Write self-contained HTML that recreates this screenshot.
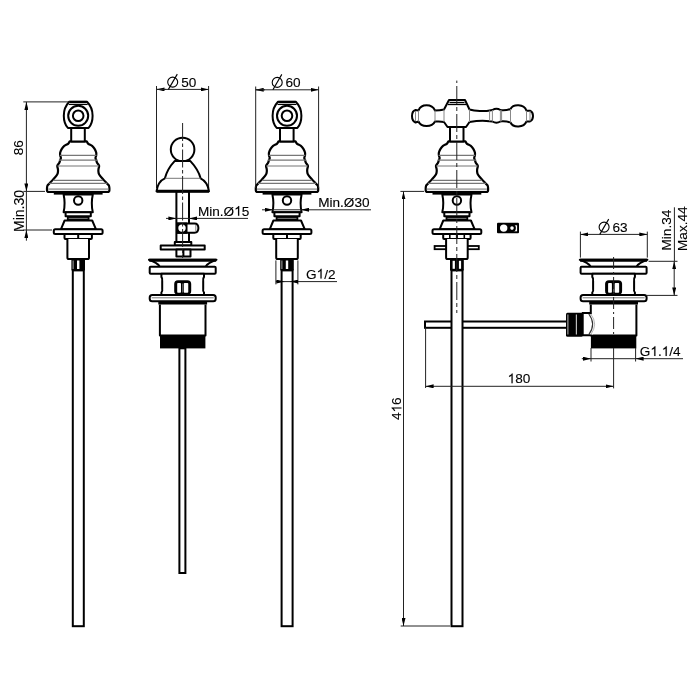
<!DOCTYPE html>
<html><head><meta charset="utf-8">
<style>
html,body{margin:0;padding:0;background:#fff;width:700px;height:700px;overflow:hidden}
svg{display:block;will-change:transform}
text{font-family:"Liberation Sans",sans-serif;font-size:13.6px;fill:#000;stroke:#000;stroke-width:0.12px}
</style></head><body>
<svg width="700" height="700" viewBox="0 0 700 700">
<defs>
 <marker id="ar" viewBox="0 0 8 4" refX="8" refY="2" markerWidth="8" markerHeight="4" markerUnits="userSpaceOnUse" orient="auto-start-reverse">
  <path d="M0,0 L8,2 L0,4 Z" fill="#000"/>
 </marker>
<g id="dia"><circle r="5" fill="none" stroke="#000" stroke-width="1.1"/><line x1="-4.3" y1="7.3" x2="4.6" y2="-8" stroke="#000" stroke-width="1.1"/></g>
 <path id="one" d="M763,0 L583,0 L583,1147 Q518,1085 412,1023 Q306,961 221,930 L221,1104 Q371,1175 483,1276 Q595,1377 641,1472 L763,1472 Z" fill="#000" stroke="#000" stroke-width="18"/>
 <!-- common faucet body from bell down, centered at x=0 -->
 <g id="body">
  <g fill="#fff" stroke="#000" stroke-width="2.2" stroke-linejoin="round">
   <path d="M-8.5,141.3 C-8.77,141.72 -9.20,143.03 -10.10,143.80 C-11.00,144.57 -12.85,145.07 -13.90,145.90 C-14.95,146.73 -15.72,147.70 -16.40,148.80 C-17.08,149.90 -17.73,151.40 -18.00,152.50 C-18.27,153.60 -18.12,154.50 -18.00,155.40 C-17.88,156.30 -17.28,157.07 -17.30,157.90 C-17.32,158.73 -17.82,159.57 -18.10,160.40 C-18.38,161.23 -18.53,162.00 -19.00,162.90 C-19.47,163.80 -20.68,164.78 -20.90,165.80 C-21.12,166.82 -20.42,168.08 -20.30,169.00 C-20.18,169.92 -20.08,170.38 -20.20,171.30 C-20.32,172.22 -20.20,173.15 -21.00,174.50 C-21.80,175.85 -23.70,177.90 -25.00,179.40 C-26.30,180.90 -27.85,182.47 -28.80,183.50 C-29.75,184.53 -30.30,184.85 -30.70,185.60 C-31.10,186.35 -31.12,187.60 -31.20,188.00 L-31.2,190.3 Q-31.2,192 -29.4,192 L29.4,192 Q31.2,192 31.2,190.3 L31.2,188 C31.12,187.60 31.10,186.35 30.70,185.60 C30.30,184.85 29.75,184.53 28.80,183.50 C27.85,182.47 26.30,180.90 25.00,179.40 C23.70,177.90 21.80,175.85 21.00,174.50 C20.20,173.15 20.32,172.22 20.20,171.30 C20.08,170.38 20.18,169.92 20.30,169.00 C20.42,168.08 21.12,166.82 20.90,165.80 C20.68,164.78 19.47,163.80 19.00,162.90 C18.53,162.00 18.38,161.23 18.10,160.40 C17.82,159.57 17.32,158.73 17.30,157.90 C17.28,157.07 17.88,156.30 18.00,155.40 C18.12,154.50 18.27,153.60 18.00,152.50 C17.73,151.40 17.08,149.90 16.40,148.80 C15.72,147.70 14.95,146.73 13.90,145.90 C12.85,145.07 11.00,144.57 10.10,143.80 C9.20,143.03 8.77,141.72 8.50,141.30 Z"/>
  </g>
  <g stroke="#777" stroke-width="1.2">
   <line x1="-18.3" y1="155.4" x2="18.3" y2="155.4"/>
   <line x1="-19.3" y1="160.2" x2="19.3" y2="160.2"/>
   <line x1="-20.8" y1="166" x2="20.8" y2="166"/>
   <line x1="-24.8" y1="180.4" x2="24.8" y2="180.4"/>
   <line x1="-29" y1="183.3" x2="29" y2="183.3"/>
  </g>
  <line x1="-30" y1="189.3" x2="30" y2="189.3" stroke="#aaa" stroke-width="2"/>
  <rect x="-24.4" y="192" width="48.8" height="2.6" fill="#000"/>
  <g fill="#fff" stroke="#000" stroke-width="2" stroke-linejoin="round">
   <path d="M-14.6,194.5 Q-12.6,203.5 -14.6,212.3 L14.6,212.3 Q12.6,203.5 14.6,194.5 Z"/>
   <circle cx="0" cy="200.5" r="4.2"/>
   <rect x="-12.6" y="212.3" width="25.2" height="4"/>
  </g>
  <rect x="-11.3" y="216.3" width="22.6" height="4.2" fill="#000"/>
  <line x1="-9.5" y1="218.4" x2="9.5" y2="218.4" stroke="#999" stroke-width="0.8"/>
  <g fill="#fff" stroke="#000" stroke-width="2" stroke-linejoin="round">
   <path d="M-13.6,220.5 L14,220.5 L17.8,229.3 L-17.3,229.3 Z"/>
   <rect x="-24.4" y="229.3" width="48.8" height="4.7" rx="1.5"/>
   <rect x="-13.7" y="234" width="27.4" height="5" rx="1"/>
   <line x1="0" y1="234" x2="0" y2="239"/>
   <path d="M-10.8,239 L-10.8,257.5 Q-10.8,259.1 -9.2,259.1 L9.2,259.1 Q10.8,259.1 10.8,257.5 L10.8,239"/>
  </g>
  <rect x="-6.8" y="259.1" width="13.6" height="11.3" fill="#000"/>
  <rect x="-1.2" y="260.5" width="2.4" height="8.5" fill="#fff"/>
  <rect x="-5.6" y="260.5" width="1" height="8.5" fill="#aaa"/>
  <rect x="-5.4" y="270.4" width="11" height="355.8" fill="#fff" stroke="#000" stroke-width="2"/>
 </g>
 <!-- knob with ring -->
 <g id="knob">
  <g fill="#fff" stroke="#000" stroke-width="2" stroke-linejoin="round">
   <path d="M-9,101.8 L8.8,101.8 C12.5,105.5 14.4,110 14.4,115.7 C14.4,121 13,125 10.4,127.9 L-10.3,127.9 C-13,125 -14.4,121 -14.4,115.7 C-14.4,110 -12.5,105.5 -9,101.8 Z"/>
   <rect x="-7" y="127.9" width="13.6" height="13.5"/>
   <circle cx="0" cy="115.8" r="10"/>
   <circle cx="0" cy="115.8" r="5.3"/>
  </g>
  <rect x="-8.6" y="100.9" width="17.2" height="2.3" fill="#000"/>
  <line x1="-9.5" y1="104.5" x2="9.5" y2="104.5" stroke="#000" stroke-width="1.1"/>
 </g>
 <!-- drain -->
 <g id="drain">
  <g fill="#fff" stroke="#000" stroke-width="2" stroke-linejoin="round">
   <path d="M-33.8,259.7 L33.8,259.7 C30,261 25,263 22.8,266.7 L-22.8,266.7 C-25,263 -30,261 -33.8,259.7 Z"/>
   <rect x="-33" y="266.7" width="66" height="7.1" rx="1"/>
   <path d="M-21.3,273.8 L-21.3,277 Q-20,278.5 -20.5,281 L-20.5,289 Q-20,291.5 -21.3,292.5 L-21.3,295 L21.3,295 L21.3,292.5 Q20,291.5 20.5,289 L20.5,281 Q20,278.5 21.3,277 L21.3,273.8 Z"/>
   <rect x="-8.5" y="280.3" width="17" height="14.5" rx="3.8" fill="#000" stroke="none"/>
   <rect x="-33" y="295" width="66" height="6.3" rx="2.5"/>
   <path d="M-22.8,304.5 L-22.8,335.5 L22.8,335.5 L22.8,304.5"/>
  </g>
  <rect x="-5.5" y="283" width="3.8" height="9.8" rx="0.8" fill="#fff"/>
  <rect x="1.05" y="283" width="4.5" height="9.8" rx="0.8" fill="#fff"/>
  <rect x="-0.45" y="283.5" width="0.6" height="9" fill="#999"/>
  <line x1="-33.5" y1="260.2" x2="33.5" y2="260.2" stroke="#000" stroke-width="3"/>
  <line x1="-31" y1="297.8" x2="31" y2="297.8" stroke="#777" stroke-width="1"/>
  <rect x="-24.4" y="301.3" width="48.8" height="3.2" fill="#000"/>
  <rect x="-22.7" y="335.5" width="45.4" height="12.9" fill="#000"/>
 </g>
</defs>
<!-- ============ FAUCET 1 ============ -->
<use href="#body" x="78.2"/>
<use href="#knob" x="78.2"/>
<g stroke="#222" stroke-width="1" fill="none">
 <line x1="23.3" y1="101.9" x2="70" y2="101.9"/>
 <line x1="23.4" y1="191.4" x2="45" y2="191.4"/>
 <line x1="23.4" y1="230" x2="52" y2="230"/>
 <line x1="26.4" y1="101.9" x2="26.4" y2="191.4" marker-start="url(#ar)" marker-end="url(#ar)"/>
 <line x1="26.4" y1="191.4" x2="26.4" y2="230"/>
 <line x1="26.4" y1="240.7" x2="26.4" y2="230" marker-end="url(#ar)"/>
</g>
<text transform="translate(23.3,155.2) rotate(-90)">86</text>
<text transform="translate(23.9,232) rotate(-90)" style="font-size:14px">Min.30</text>

<!-- ============ POP-UP (middle) ============ -->
<g stroke="#222" stroke-width="1" fill="none">
 <line x1="156.5" y1="86" x2="156.5" y2="188"/>
 <line x1="208.6" y1="86" x2="208.6" y2="188"/>
 <line x1="166" y1="89.4" x2="156.5" y2="89.4" marker-end="url(#ar)"/>
 <line x1="156.5" y1="89.4" x2="208.6" y2="89.4" marker-end="url(#ar)"/>
</g>
<use href="#dia" x="172.7" y="82.1"/><text x="181.3" y="86.5">50</text>
<g fill="#fff" stroke="#000" stroke-width="2" stroke-linejoin="round">
 <rect x="176.4" y="191.3" width="12.6" height="53"/>
 <circle cx="182.6" cy="149.5" r="11.8"/>
 <path d="M174.6,161.1 L190.4,161.1 C195,166 199,172 200.6,178.3 C204,180 208,184 209,191.3 L156.5,191.3 C157.5,184 161,180 164.9,178.3 C166.5,172 170,166 174.6,161.1 Z"/>
</g>
<line x1="165" y1="178.3" x2="200.6" y2="178.3" stroke="#777" stroke-width="1"/>
<line x1="156.5" y1="191.3" x2="209" y2="191.3" stroke="#000" stroke-width="3"/>
<g stroke="#222" stroke-width="1" fill="none">
 <line x1="166" y1="218.4" x2="176.4" y2="218.4" marker-end="url(#ar)"/>
 <line x1="248" y1="218.4" x2="189" y2="218.4" marker-end="url(#ar)"/>
 <line x1="176.4" y1="218.4" x2="189" y2="218.4"/>
</g>
<text x="197.9" y="215.8">Min.Ø 5</text><use href="#one" transform="translate(234.15,215.80) scale(0.0066406,-0.0066406)"/>
<g fill="#fff" stroke="#000" stroke-width="2" stroke-linejoin="round">
 <path d="M177.4,223.4 L194.5,223.4 Q198.4,223.4 198.4,228.1 Q198.4,232.8 194.5,232.8 L177.4,232.8 Z"/>
 <path d="M177.4,223.4 L186.5,223.4 L186.5,232.8 L177.4,232.8 Z" fill="#000"/>
 <circle cx="182" cy="228.1" r="3.7" stroke="none"/>
 <line x1="195.8" y1="225" x2="195.8" y2="231.3" stroke="#888" stroke-width="1"/>
 <rect x="174.8" y="242" width="16.5" height="3.5"/>
 <rect x="160.7" y="245.5" width="44" height="3.9"/>
 <rect x="176.4" y="249.4" width="14.1" height="7.1"/>
 <line x1="183.4" y1="249.4" x2="183.4" y2="256.5"/>
</g>
<use href="#drain" x="182.7"/>
<rect x="179.4" y="348.3" width="6" height="224.7" fill="#fff" stroke="#000" stroke-width="2"/>
<line x1="182.6" y1="123" x2="182.6" y2="258" stroke="#222" stroke-width="1" stroke-dasharray="18 2.5 3.5 2.5"/>

<!-- ============ FAUCET 3 ============ -->
<use href="#body" x="287"/>
<use href="#knob" x="287"/>
<g stroke="#222" stroke-width="1" fill="none">
 <line x1="255.7" y1="86.5" x2="255.7" y2="188"/>
 <line x1="318.6" y1="86.5" x2="318.6" y2="188"/>
 <line x1="265" y1="89.8" x2="255.7" y2="89.8" marker-end="url(#ar)"/>
 <line x1="255.7" y1="89.8" x2="318.6" y2="89.8" marker-end="url(#ar)"/>
 <line x1="262" y1="209.8" x2="273" y2="209.8" marker-end="url(#ar)"/>
 <line x1="371" y1="209.8" x2="301" y2="209.8" marker-end="url(#ar)"/>
 <line x1="275.9" y1="260.4" x2="275.9" y2="284.4"/>
 <line x1="297.9" y1="260.4" x2="297.9" y2="284.4"/>
 <line x1="275.9" y1="281.6" x2="284.4" y2="281.6" marker-end="url(#ar)"/>
 <line x1="337" y1="281.6" x2="290.1" y2="281.6" marker-end="url(#ar)"/>
 <line x1="283" y1="281.6" x2="291" y2="281.6"/>
 <line x1="273" y1="209.8" x2="301" y2="209.8"/>
</g>
<use href="#dia" x="277.2" y="82.4"/><text x="285.5" y="87.1">60</text>
<text x="318.2" y="207">Min.Ø30</text>
<text x="306" y="278.6">G /2</text><use href="#one" transform="translate(316.56,278.60) scale(0.0066406,-0.0066406)"/>

<!-- ============ RIGHT FAUCET ============ -->
<!-- pipe -->
<rect x="425" y="321.5" width="150" height="6.3" fill="#fff" stroke="#000" stroke-width="2"/>
<rect x="434.6" y="246" width="44.2" height="3.2" fill="#fff" stroke="#000" stroke-width="1.8"/>
<use href="#body" x="456.9"/>
<line x1="449.8" y1="234" x2="449.8" y2="239" stroke="#000" stroke-width="1.6"/>
<line x1="464.3" y1="234" x2="464.3" y2="239" stroke="#000" stroke-width="1.6"/>
<g fill="#fff" stroke="#000" stroke-width="2" stroke-linejoin="round">
 <rect x="450" y="127" width="13.5" height="14.4"/>
 <path d="M449,100 L465,100 L469.5,109.5 C475,111 485,111.5 489.6,110.5 L492.4,110 Q496.4,107.5 500.4,110 L501.6,110.3 C505,110.5 508,110 510.5,109 C513,104 524,103.5 526.5,110.8 L530,110.8 Q533,112 533,116 Q533,120 530,121.4 L526.5,121.4 C524,128 513,128 510.5,122.5 C508,121.5 505,121 501.6,121.2 L500.4,121.5 Q496.4,124 492.4,121.5 L489.6,121.2 C485,120.5 475,121 469.5,122 L466,127 L447.5,127 L444,122 C440,121 437.5,121.5 435,121.5 C432,127.5 421,127.5 418.5,121.5 L415.5,122.5 Q412,121 412,116 Q412,111 415.5,110 L418.5,110.5 C421,103.5 432,103.5 435,110.5 C437.5,110.5 440,110.5 444,109.5 Z"/>
</g>
<g stroke="#000" stroke-width="1.3">
 <line x1="449.5" y1="102.5" x2="464.5" y2="102.5"/>
 <line x1="448" y1="104.5" x2="466" y2="104.5"/>
</g>
<g stroke="#888" stroke-width="1">
 <line x1="444" y1="109.5" x2="444" y2="122"/>
 <line x1="469.5" y1="109.5" x2="469.5" y2="122"/>
 <line x1="435" y1="110.5" x2="435" y2="121.5"/>
 <line x1="418.5" y1="110.5" x2="418.5" y2="121.5"/>
 <line x1="415.5" y1="111" x2="415.5" y2="121"/>
 <line x1="489.6" y1="110.5" x2="489.6" y2="121.2"/>
 <line x1="492.4" y1="110" x2="492.4" y2="121.5"/>
 <line x1="500.4" y1="110" x2="500.4" y2="121.5"/>
 <line x1="501.6" y1="110.3" x2="501.6" y2="121.2"/>
 <line x1="510.5" y1="109" x2="510.5" y2="122.5"/>
 <line x1="526.5" y1="110.8" x2="526.5" y2="121.4"/>
 <line x1="530" y1="111" x2="530" y2="121.2"/>
</g>
<rect x="450" y="259.1" width="13.4" height="11.3" fill="#000"/>
<rect x="452.6" y="260.8" width="2.3" height="8" fill="#fff"/>
<rect x="458.9" y="260.8" width="2.2" height="8" fill="#fff"/>
<line x1="456.8" y1="80.6" x2="456.8" y2="313" stroke="#222" stroke-width="1" stroke-dasharray="18 3 4 3" stroke-dashoffset="22.6"/>
<!-- small block -->
<rect x="497" y="222.8" width="22" height="10.5" rx="1" fill="#000"/>
<circle cx="503.7" cy="228.1" r="3.7" fill="#fff"/>
<rect x="513.5" y="225.3" width="3.6" height="6" fill="#fff"/>
<circle cx="512" cy="228.1" r="3.9" fill="#000"/>
<circle cx="512" cy="228.1" r="1.8" fill="#fff"/>
<!-- 416 dim -->
<g stroke="#222" stroke-width="1" fill="none">
 <line x1="400.4" y1="191.4" x2="424" y2="191.4"/>
 <line x1="400.7" y1="626" x2="450" y2="626"/>
 <line x1="403.5" y1="191.4" x2="403.5" y2="626" marker-start="url(#ar)" marker-end="url(#ar)"/>
 <line x1="425.6" y1="327.5" x2="425.6" y2="388"/>
 <line x1="425.6" y1="386.3" x2="613.6" y2="386.3" marker-start="url(#ar)" marker-end="url(#ar)"/>
</g>
<g transform="translate(401.4,420) rotate(-90)"><text>4 6</text><use href="#one" transform="translate(7.55,0.00) scale(0.0066406,-0.0066406)"/></g>
<text x="507.6" y="383.2"> 80</text><use href="#one" transform="translate(507.60,383.20) scale(0.0066406,-0.0066406)"/>

<!-- ============ RIGHT DRAIN ============ -->
<use href="#drain" x="613.6"/>
<rect x="588" y="314.2" width="5" height="20.2" fill="#fff"/>
<g fill="none" stroke="#000" stroke-width="2">
 <path d="M590.4,313.1 L582.7,313.1 L582.7,335.2 L590.4,335.2"/>
</g>
<path d="M588.8,314 Q596.5,324.2 588.8,334.5" fill="none" stroke="#333" stroke-width="1.1"/>
<path d="M590.8,314 Q598.5,324.2 590.8,334.5" fill="none" stroke="#aaa" stroke-width="0.9"/>
<rect x="566" y="312.7" width="16.7" height="24" rx="1.5" fill="#000"/>
<rect x="567.4" y="314.5" width="1" height="20" fill="#bbb"/>
<rect x="575.8" y="314.5" width="1.2" height="20" fill="#bbb"/>
<line x1="613.6" y1="257" x2="613.6" y2="336" stroke="#222" stroke-width="1" stroke-dasharray="12 3 2 3"/>
<line x1="613.6" y1="348" x2="613.6" y2="388.4" stroke="#222" stroke-width="1"/>
<g stroke="#222" stroke-width="1" fill="none">
 <line x1="580.4" y1="231.6" x2="580.4" y2="257.6"/>
 <line x1="647.3" y1="231.6" x2="647.3" y2="257.6"/>
 <line x1="580.4" y1="234.4" x2="647.3" y2="234.4" marker-start="url(#ar)" marker-end="url(#ar)"/>
 <line x1="648.6" y1="261.3" x2="677.5" y2="261.3"/>
 <line x1="646" y1="295.4" x2="677.5" y2="295.4"/>
 <line x1="674.2" y1="261.3" x2="674.2" y2="295.4" marker-start="url(#ar)" marker-end="url(#ar)"/>
 <line x1="674.4" y1="207.3" x2="674.4" y2="261.3"/>
 <line x1="591" y1="348" x2="591" y2="361.5"/>
 <line x1="635.6" y1="348" x2="635.6" y2="361.5"/>
 <line x1="581.8" y1="358.7" x2="591" y2="358.7" marker-end="url(#ar)"/>
 <line x1="683" y1="358.7" x2="635.6" y2="358.7" marker-end="url(#ar)"/>
 <line x1="591" y1="358.7" x2="635.6" y2="358.7"/>
</g>
<use href="#dia" x="604.1" y="227.1"/><text x="612.4" y="231.8">63</text>
<text transform="translate(671.1,250.5) rotate(-90)">Min.34</text>
<text transform="translate(686.6,251) rotate(-90)">Max.44</text>
<text x="639.8" y="356">G . /4</text><use href="#one" transform="translate(650.36,356.00) scale(0.0066406,-0.0066406)"/><use href="#one" transform="translate(661.71,356.00) scale(0.0066406,-0.0066406)"/>
</svg>
</body></html>
